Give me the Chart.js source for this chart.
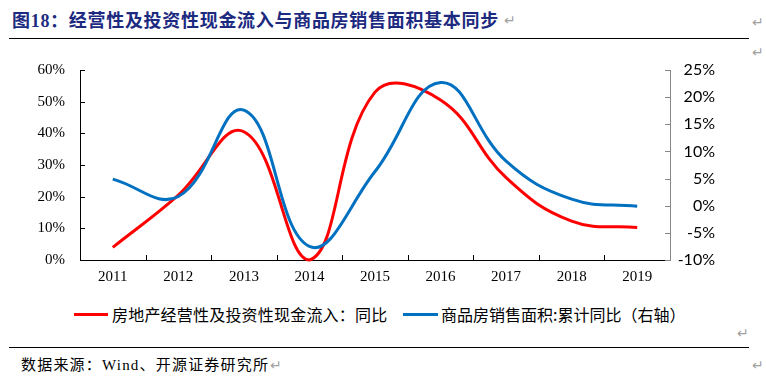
<!DOCTYPE html>
<html>
<head>
<meta charset="utf-8">
<script src="https://cdn.jsdelivr.net/npm/chart.js@4.4.1/dist/chart.umd.min.js"></script>
<style>
  html, body { margin: 0; padding: 0; background: #fff; }
  body { width: 766px; height: 379px; position: relative; overflow: hidden; }
  .abs { position: absolute; white-space: nowrap; }
  #title { left: 12px; top: 11px; font: bold 18px/20px "Liberation Serif", "Noto Sans CJK SC", serif; color: #1c2a7f; letter-spacing: 0.7px; }
  .rule { position: absolute; left: 9px; width: 740px; height: 0; border-top: 1.5px solid #000; }
  .pm { font: 14px/16px "DejaVu Sans", sans-serif; color: #a0a0a0; }
  #chartBox { position: absolute; left: 0; top: 0; width: 766px; height: 295px; }
  .leg { font: 16px/18px "Noto Sans CJK SC", sans-serif; color: #000; }
  .legline { position: absolute; height: 3px; }
  #source { left: 21px; top: 356px; font: 15px/18px "Liberation Serif", "Noto Sans CJK SC", serif; color: #000; letter-spacing: 1.2px; }
</style>
</head>
<body>
<div id="title" class="abs">图18：经营性及投资性现金流入与商品房销售面积基本同步</div>
<div class="abs pm" style="left:504px;top:12px;">↵</div>
<div class="abs pm" style="left:752px;top:14px;">↵</div>
<div class="rule" style="top:38px;"></div>
<div class="abs pm" style="left:752px;top:44px;">↵</div>

<div id="chartBox"><canvas id="c"></canvas></div>

<div class="legline" style="left:74px;top:313px;width:34px;background:#ff0000;"></div>
<div class="abs leg" id="leg1" style="left:112px;top:305px;letter-spacing:0.2px;"></div>
<div class="legline" style="left:403px;top:313px;width:35px;background:#0070c0;"></div>
<div class="abs leg" id="leg2" style="left:441px;top:305px;"></div>
<div class="abs pm" style="left:737px;top:325px;">↵</div>

<div class="rule" style="top:347px;"></div>
<div id="source" class="abs">数据来源：Wind、开源证券研究所</div>
<div class="abs pm" style="left:270px;top:357px;">↵</div>
<div class="abs pm" style="left:752px;top:357px;">↵</div>

<script>
// ---- data ----
const years = ['2011', '2012', '2013', '2014', '2015', '2016', '2017', '2018', '2019'];
const cashInflowYoY = [4, 20.5, 40.5, 0, 53, 50.5, 26, 12.3, 10.3];      // left axis, %
const salesAreaYoY = [4.9, 1.7, 17.6, -7.5, 6.3, 22.7, 8.2, 1.2, -0.1];   // right axis, %
const seriesNames = ['房地产经营性及投资性现金流入：同比', '商品房销售面积:累计同比（右轴）'];
const leftTicks = [0, 10, 20, 30, 40, 50, 60];
const rightTicks = [-10, -5, 0, 5, 10, 15, 20, 25];

document.getElementById('leg1').textContent = seriesNames[0];
document.getElementById('leg2').textContent = seriesNames[1];

const innerTicks = {
  id: 'innerTicks',
  afterDraw(chart) {
    const ctx = chart.ctx;
    const x = chart.scales.x, yl = chart.scales.y, yr = chart.scales.y1;
    ctx.save();
    ctx.lineWidth = 1;
    ctx.strokeStyle = '#000';
    ctx.beginPath();
    leftTicks.forEach(v => {
      const py = Math.round(yl.getPixelForValue(v)) + 0.5;
      ctx.moveTo(yl.right, py); ctx.lineTo(yl.right + 5, py);
    });
    for (let i = 0; i < years.length - 1; i++) {
      const px = Math.round((x.getPixelForValue(i) + x.getPixelForValue(i + 1)) / 2) + 0.5;
      ctx.moveTo(px, x.top); ctx.lineTo(px, x.top - 5);
    }
    ctx.stroke();
    ctx.strokeStyle = '#868686';
    ctx.beginPath();
    rightTicks.forEach(v => {
      const py = Math.round(yr.getPixelForValue(v)) + 0.5;
      ctx.moveTo(yr.left, py); ctx.lineTo(yr.left - 5, py);
    });
    ctx.stroke();
    ctx.restore();
  }
};

new Chart(document.getElementById('c'), {
  type: 'line',
  data: {
    labels: years,
    datasets: [
      {
        label: seriesNames[0], data: cashInflowYoY, yAxisID: 'y',
        borderColor: '#ff0000', backgroundColor: '#ff0000', borderWidth: 3,
        pointRadius: 0, tension: 0.42, clip: false, order: 2
      },
      {
        label: seriesNames[1], data: salesAreaYoY, yAxisID: 'y1',
        borderColor: '#0070c0', backgroundColor: '#0070c0', borderWidth: 3,
        pointRadius: 0, tension: 0.42, clip: false, order: 1
      }
    ]
  },
  options: {
    responsive: true, maintainAspectRatio: false, animation: false,
    layout: { padding: { top: 70, left: 0, right: 51, bottom: 0 } },
    plugins: { legend: { display: false }, tooltip: { enabled: false }, title: { display: false } },
    scales: {
      x: {
        offset: true,
        grid: { display: false, drawTicks: false },
        border: { display: true, color: '#000', width: 1 },
        ticks: { padding: 8, color: '#000', font: { family: 'Liberation Serif', size: 15 }, maxRotation: 0 },
        afterFit: s => { s.height = 35; }
      },
      y: {
        position: 'left', min: 0, max: 60,
        afterBuildTicks: s => { s.ticks = leftTicks.map(v => ({ value: v })); },
        grid: { display: false, drawTicks: false },
        border: { display: true, color: '#000', width: 1 },
        ticks: { padding: 15, color: '#000', font: { family: 'Liberation Serif', size: 15 }, callback: v => v + '%' },
        afterFit: s => { s.width = 80; }
      },
      y1: {
        position: 'right', min: -10, max: 25,
        afterBuildTicks: s => { s.ticks = rightTicks.map(v => ({ value: v })); },
        grid: { display: false, drawTicks: false },
        border: { display: true, color: '#868686', width: 1 },
        ticks: { padding: 5, crossAlign: 'far', color: '#000', font: { family: 'Lato', size: 16 }, callback: v => v + '%' },
        afterFit: s => { s.width = 45; }
      }
    }
  },
  plugins: [innerTicks]
});
</script>
</body>
</html>
